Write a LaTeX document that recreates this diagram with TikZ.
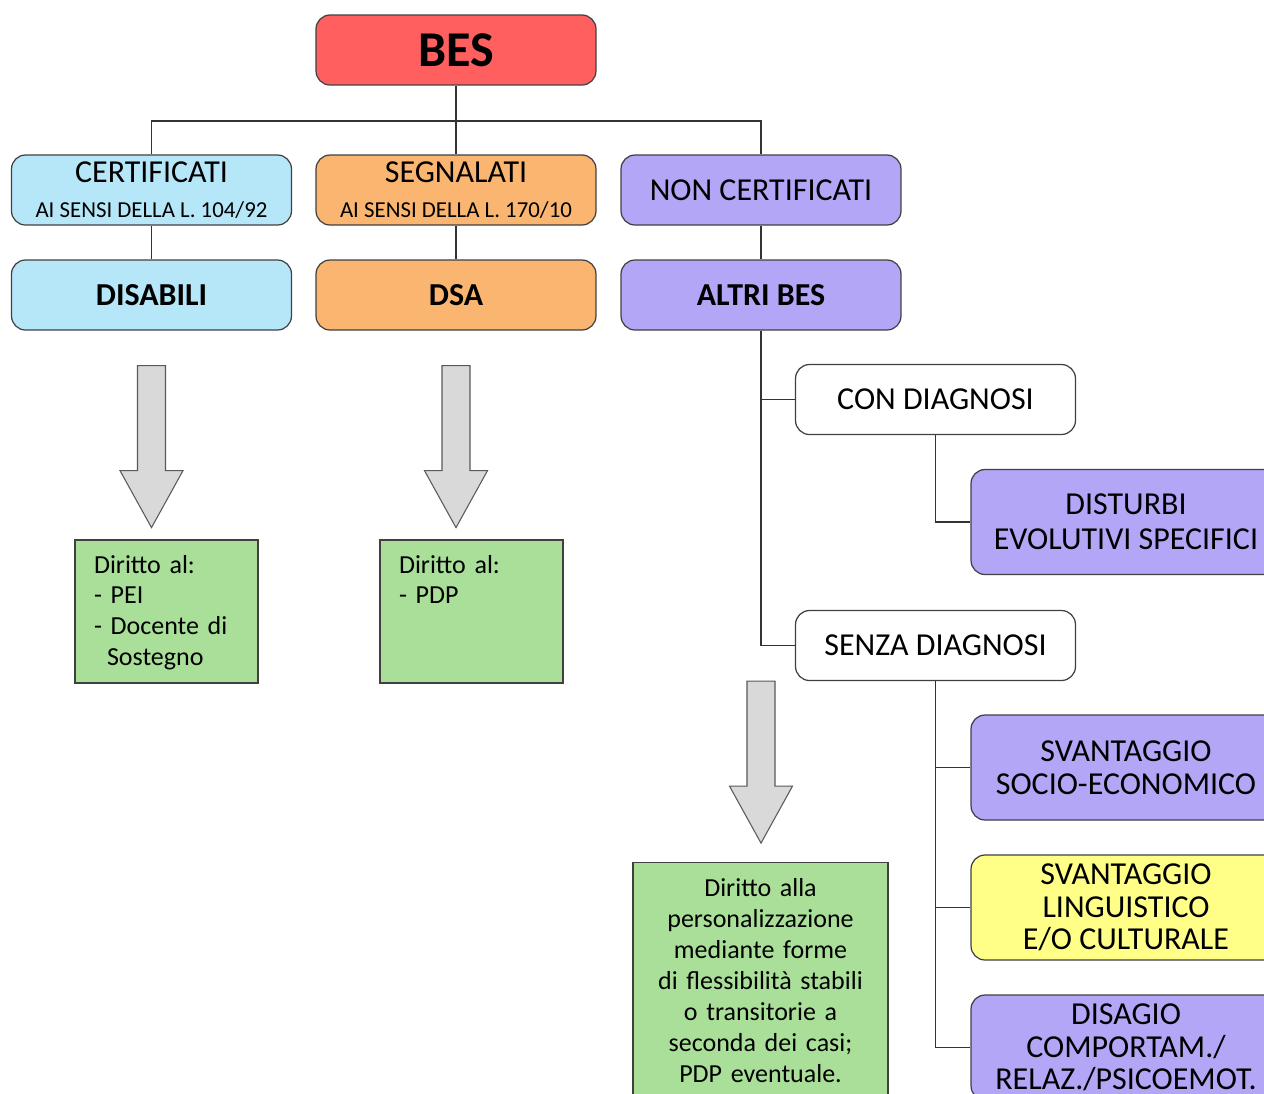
\documentclass[tikz,border=0pt]{standalone}
\usepackage{fontspec}
\setmainfont{Carlito}

\definecolor{besred}{HTML}{FF5F5F}
\definecolor{certblue}{HTML}{B6E7F9}
\definecolor{dsaorange}{HTML}{FAB570}
\definecolor{altripurple}{HTML}{B4A6F6}
\definecolor{lingyellow}{HTML}{FFFF88}
\definecolor{dirittogreen}{HTML}{A9DF99}
\definecolor{arrowgray}{HTML}{D9D9D9}

\begin{document}
\begin{tikzpicture}[%
        x = 0.02cm,
        y = -0.02cm,
        line width = 0.7pt,
        every node/.style = {%
            font = \fontsize{18.2}{18.6}\selectfont
        },
        box/.style = {%
            draw = black!75,
            rounded corners = 0.28cm,
            minimum width = 5.6cm,
            minimum height = 1.4cm,
            align = center,
            inner sep = 0pt
        },
        widebox/.style = {%
            box,
            minimum width = 6.2cm,
            minimum height = 2.1cm
        },
        dirittobox/.style = {%
            draw = black!75,
            fill = dirittogreen,
            inner sep = 0pt,
            font = \fontsize{14.8}{17.6}\selectfont
        },
        link/.style = {%
            draw = black!80,
            line width = 0.7pt
        },
        downarrow/.pic = {%
            \filldraw[fill = arrowgray, draw = black!65, line width = 0.6pt]
                (-14, 0) -- (14, 0) -- (14, 105) -- (31.5, 105)
                -- (0, 162) -- (-31.5, 105) -- (-14, 105) -- cycle;
        }
    ]

        % Keep the page at the size of the chart.
        \useasboundingbox (0, 0) rectangle (1264, 1093);
        \clip (0, 0) rectangle (1264, 1093);

        % Top of the tree.
        \node[box, fill = besred, font = \fontsize{28.5}{30}\selectfont\bfseries]
            (bes) at (456, 50) {BES};

        % First row.
        \node[box, fill = certblue] (cert) at (151.5, 190)
            {CERTIFICATI\\[1pt]{\fontsize{13}{14}\selectfont AI SENSI DELLA L. 104/92}};
        \node[box, fill = dsaorange] (segn) at (456, 190)
            {SEGNALATI\\[1pt]{\fontsize{13}{14}\selectfont AI SENSI DELLA L. 170/10}};
        \node[box, fill = altripurple] (noncert) at (761, 190) {NON CERTIFICATI};

        % Second row.
        \node[box, fill = certblue, font = \fontsize{18.2}{18.6}\selectfont\bfseries]
            (disab) at (151.5, 295) {DISABILI};
        \node[box, fill = dsaorange, font = \fontsize{18.2}{18.6}\selectfont\bfseries]
            (dsa) at (456, 295) {DSA};
        \node[box, fill = altripurple, font = \fontsize{18.2}{18.6}\selectfont\bfseries]
            (altri) at (761, 295) {ALTRI BES};

        % Branches of the other BES.
        \node[box, fill = white] (con) at (935.5, 399.5) {CON DIAGNOSI};
        \node[box, fill = white] (senza) at (935.5, 645.5) {SENZA DIAGNOSI};
        \node[widebox, fill = altripurple, font = \fontsize{18.2}{19.9}\selectfont]
            (dist) at (1126, 522) {DISTURBI\\EVOLUTIVI SPECIFICI};
        \node[widebox, fill = altripurple] (socio) at (1126, 767.5)
            {SVANTAGGIO\\SOCIO-ECONOMICO};
        \node[widebox, fill = lingyellow] (ling) at (1126, 907.5)
            {SVANTAGGIO\\LINGUISTICO\\E/O CULTURALE};
        \node[widebox, fill = altripurple] (disagio) at (1126, 1047.5)
            {DISAGIO\\COMPORTAM./\\RELAZ./PSICOEMOT.};

        % Rights of each group.
        \node[dirittobox, minimum width = 3.66cm, text width = 2.9cm, align = left,
            text height = 0.66cm, text depth = 2.2cm]
            (pei) at (166.5, 611.5) {Diritto al:\\- PEI\\- Docente di\\\hspace{0.26cm}Sostegno};
        \node[dirittobox, minimum width = 3.66cm, text width = 2.9cm, align = left,
            text height = 0.66cm, text depth = 2.2cm]
            (pdp) at (471.5, 611.5) {Diritto al:\\- PDP};
        \node[dirittobox, text width = 5.1cm, align = center,
            text height = 0.68cm, text depth = 4.0cm]
            (person) at (760.5, 979.5) {Diritto alla\\personalizzazione\\mediante forme\\di flessibilità stabili\\o transitorie a\\seconda dei casi;\\PDP eventuale.};

        % Connectors.
        \coordinate (split) at (456, 121);
        \draw[link] (bes.south) -- (segn.north);
        \draw[link] (cert.north) |- (split) -| (noncert.north);
        \draw[link] (cert.south) -- (disab.north);
        \draw[link] (segn.south) -- (dsa.north);
        \draw[link] (noncert.south) -- (altri.north);
        \draw[link] (altri.south) |- (senza.west);
        \draw[link] (altri.south |- con.west) -- (con.west);
        \draw[link] (con.south) |- (dist.west);
        \draw[link] (senza.south) |- (disagio.west);
        \draw[link] (senza.south |- socio.west) -- (socio.west);
        \draw[link] (senza.south |- ling.west) -- (ling.west);

        % Big gray arrows down to the rights.
        \pic at ([yshift = -0.7cm]disab.south) {downarrow};
        \pic at ([yshift = -0.7cm]dsa.south) {downarrow};
        \pic at (altri.south |- senza.south) {downarrow};
    \end{tikzpicture}
\end{document}
